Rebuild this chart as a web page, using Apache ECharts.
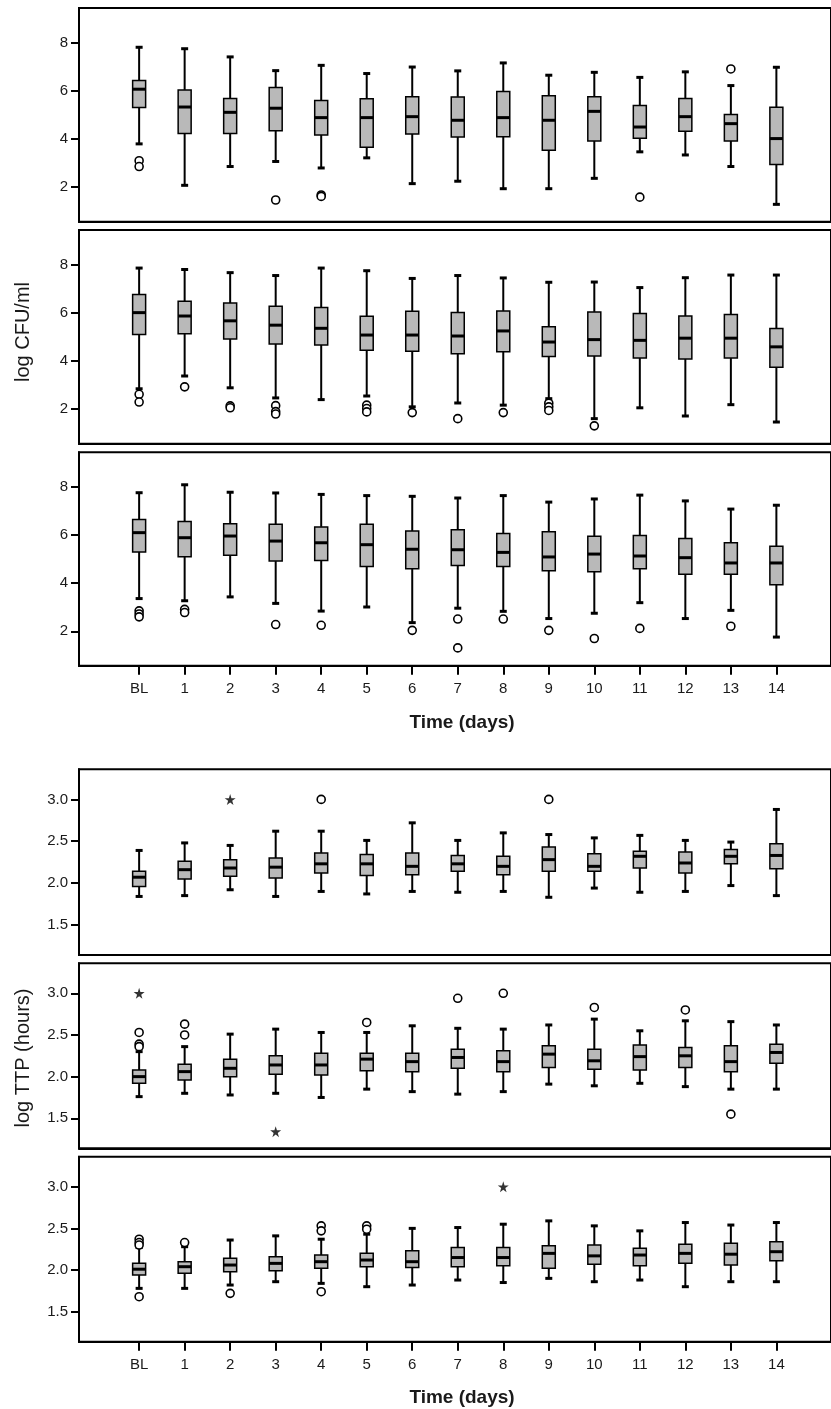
<!DOCTYPE html>
<html>
<head>
<meta charset="utf-8">
<script src="https://cdn.jsdelivr.net/npm/echarts@6/dist/echarts.min.js"></script>
<style>
  html, body { margin: 0; padding: 0; background: #fff; }
  #chart { width: 831px; height: 1409px; }
</style>
</head>
<body>
<div id="chart"></div>
<script>
const days = ['BL', '1', '2', '3', '4', '5', '6', '7', '8', '9', '10', '11', '12', '13', '14'];

// each entry: [low whisker, Q1, median, Q3, high whisker]
const cfuA = [
  [3.80, 5.31, 6.07, 6.43, 7.81], [2.08, 4.23, 5.33, 6.04, 7.75], [2.86, 4.23, 5.11, 5.68, 7.41],
  [3.07, 4.35, 5.28, 6.14, 6.84], [2.80, 4.17, 4.89, 5.60, 7.06], [3.22, 3.66, 4.89, 5.67, 6.72],
  [2.15, 4.21, 4.93, 5.76, 6.99], [2.25, 4.09, 4.78, 5.75, 6.83], [1.94, 4.10, 4.89, 5.97, 7.16],
  [1.94, 3.54, 4.78, 5.80, 6.65], [2.37, 3.92, 5.15, 5.76, 6.77], [3.47, 4.03, 4.50, 5.39, 6.56],
  [3.34, 4.32, 4.93, 5.68, 6.79], [2.86, 3.92, 4.64, 5.02, 6.22], [1.29, 2.94, 4.02, 5.32, 6.98]
];
const cfuAOut = [[0, 3.10], [0, 2.86], [3, 1.47], [4, 1.68], [4, 1.62], [11, 1.59], [13, 6.91]];

const cfuB = [
  [2.85, 5.10, 6.01, 6.76, 7.86], [3.38, 5.13, 5.87, 6.48, 7.80], [2.89, 4.92, 5.67, 6.41, 7.67],
  [2.47, 4.71, 5.49, 6.27, 7.55], [2.40, 4.67, 5.36, 6.22, 7.86], [2.55, 4.45, 5.08, 5.86, 7.75],
  [2.10, 4.41, 5.08, 6.07, 7.43], [2.26, 4.30, 5.04, 6.02, 7.55], [2.17, 4.39, 5.25, 6.08, 7.45],
  [2.44, 4.19, 4.79, 5.42, 7.27], [1.61, 4.21, 4.89, 6.04, 7.28], [2.06, 4.13, 4.86, 5.97, 7.05],
  [1.72, 4.09, 4.95, 5.87, 7.46], [2.19, 4.13, 4.95, 5.93, 7.57], [1.47, 3.74, 4.59, 5.35, 7.57]
];
const cfuBOut = [
  [0, 2.62], [0, 2.30], [1, 2.93], [2, 2.14], [2, 2.06], [3, 2.15], [3, 1.90], [3, 1.80],
  [5, 2.17], [5, 2.03], [5, 1.89], [6, 1.86], [7, 1.61], [8, 1.86], [9, 2.25], [9, 2.10],
  [9, 1.95], [10, 1.31]
];

const cfuC = [
  [3.36, 5.30, 6.10, 6.65, 7.76], [3.27, 5.10, 5.89, 6.56, 8.09], [3.43, 5.16, 5.96, 6.47, 7.78],
  [3.16, 4.92, 5.75, 6.45, 7.75], [2.84, 4.94, 5.68, 6.34, 7.69], [3.01, 4.69, 5.60, 6.45, 7.64],
  [2.36, 4.60, 5.41, 6.17, 7.61], [2.96, 4.73, 5.39, 6.22, 7.54], [2.83, 4.69, 5.28, 6.07, 7.64],
  [2.53, 4.52, 5.09, 6.14, 7.37], [2.75, 4.47, 5.21, 5.95, 7.50], [3.19, 4.60, 5.13, 5.98, 7.66],
  [2.53, 4.37, 5.06, 5.86, 7.42], [2.87, 4.37, 4.84, 5.68, 7.08], [1.76, 3.93, 4.84, 5.53, 7.24]
];
const cfuCOut = [
  [0, 2.85], [0, 2.72], [0, 2.60], [1, 2.91], [1, 2.78], [3, 2.28], [4, 2.25], [6, 2.04],
  [7, 2.51], [7, 1.31], [8, 2.51], [9, 2.04], [10, 1.70], [11, 2.12], [13, 2.21]
];

// log TTP (hours)
const ttpA = [
  [1.84, 1.96, 2.07, 2.14, 2.39], [1.85, 2.05, 2.16, 2.26, 2.48], [1.92, 2.08, 2.18, 2.28, 2.45],
  [1.84, 2.06, 2.19, 2.30, 2.62], [1.90, 2.12, 2.23, 2.36, 2.62], [1.87, 2.09, 2.23, 2.34, 2.51],
  [1.90, 2.10, 2.20, 2.36, 2.72], [1.89, 2.14, 2.23, 2.33, 2.51], [1.90, 2.10, 2.20, 2.32, 2.60],
  [1.83, 2.14, 2.28, 2.43, 2.58], [1.94, 2.14, 2.20, 2.35, 2.54], [1.89, 2.18, 2.32, 2.38, 2.57],
  [1.90, 2.12, 2.24, 2.37, 2.51], [1.97, 2.23, 2.32, 2.40, 2.49], [1.85, 2.17, 2.33, 2.47, 2.88]
];
const ttpAOut = [[4, 3.00], [9, 3.00]];
const ttpAStar = [[2, 3.00]];

const ttpB = [
  [1.76, 1.92, 2.00, 2.08, 2.30], [1.80, 1.96, 2.06, 2.15, 2.36], [1.78, 2.00, 2.10, 2.21, 2.51],
  [1.80, 2.03, 2.14, 2.25, 2.57], [1.75, 2.02, 2.14, 2.28, 2.53], [1.85, 2.07, 2.21, 2.28, 2.53],
  [1.82, 2.06, 2.18, 2.28, 2.61], [1.79, 2.10, 2.23, 2.33, 2.58], [1.82, 2.06, 2.18, 2.31, 2.57],
  [1.91, 2.11, 2.27, 2.37, 2.62], [1.89, 2.09, 2.19, 2.33, 2.69], [1.92, 2.08, 2.24, 2.38, 2.55],
  [1.88, 2.11, 2.25, 2.35, 2.67], [1.85, 2.06, 2.18, 2.37, 2.66], [1.85, 2.16, 2.29, 2.39, 2.62]
];
const ttpBOut = [
  [0, 2.53], [0, 2.39], [0, 2.36], [1, 2.63], [1, 2.50], [5, 2.65], [7, 2.94], [8, 3.00],
  [10, 2.83], [12, 2.80], [13, 1.55]
];
const ttpBStar = [[0, 3.00], [3, 1.34]];

const ttpC = [
  [1.78, 1.94, 2.01, 2.08, 2.27], [1.78, 1.96, 2.04, 2.10, 2.28], [1.82, 1.98, 2.06, 2.14, 2.36],
  [1.86, 1.99, 2.08, 2.16, 2.41], [1.84, 2.02, 2.10, 2.18, 2.37], [1.80, 2.04, 2.12, 2.20, 2.43],
  [1.82, 2.03, 2.10, 2.23, 2.50], [1.88, 2.04, 2.15, 2.27, 2.51], [1.85, 2.05, 2.15, 2.27, 2.55],
  [1.90, 2.02, 2.20, 2.29, 2.59], [1.86, 2.07, 2.17, 2.30, 2.53], [1.88, 2.05, 2.18, 2.26, 2.47],
  [1.80, 2.08, 2.20, 2.31, 2.57], [1.86, 2.06, 2.19, 2.32, 2.54], [1.86, 2.11, 2.22, 2.34, 2.57]
];
const ttpCOut = [
  [0, 2.37], [0, 2.33], [0, 2.30], [0, 1.68], [1, 2.33], [2, 1.72], [4, 2.53], [4, 2.47],
  [4, 1.74], [5, 2.53], [5, 2.49]
];
const ttpCStar = [[8, 3.00]];

const cfuTicks = [2, 4, 6, 8];
const ttpTicks = [1.5, 2.0, 2.5, 3.0];
const dayTicks = days.map((d, i) => i);

const FONT = 'Liberation Sans, Arial, sans-serif';
const STAR = 'path://M50,0 L61,35 L98,35 L68,57 L79,91 L50,70 L21,91 L32,57 L2,35 L39,35 Z';

const panels = [
  {top: 8, height: 213.7, min: 0.57, max: 9.44, ticks: cfuTicks, box: cfuA, out: cfuAOut, star: [], xLabels: false},
  {top: 230, height: 213.7, min: 0.57, max: 9.44, ticks: cfuTicks, box: cfuB, out: cfuBOut, star: [], xLabels: false},
  {top: 452.3, height: 213.4, min: 0.57, max: 9.44, ticks: cfuTicks, box: cfuC, out: cfuCOut, star: [], xLabels: true},
  {top: 769.3, height: 185.7, min: 1.14, max: 3.36, ticks: ttpTicks, box: ttpA, out: ttpAOut, star: ttpAStar, xLabels: false},
  {top: 963.3, height: 185, min: 1.14, max: 3.36, ticks: ttpTicks, box: ttpB, out: ttpBOut, star: ttpBStar, xLabels: false},
  {top: 1156.7, height: 185, min: 1.14, max: 3.36, ticks: ttpTicks, box: ttpC, out: ttpCOut, star: ttpCStar, xLabels: true}
];

function renderBox(params, api) {
  const x = api.value(0);
  const lo = api.coord([x, api.value(1)]);
  const q1 = api.coord([x, api.value(2)]);
  const md = api.coord([x, api.value(3)]);
  const q3 = api.coord([x, api.value(4)]);
  const hi = api.coord([x, api.value(5)]);
  const cx = lo[0];
  const hw = 6.5;   // half box width
  const cw = 3.5;   // half cap width
  const thin = {stroke: '#000', lineWidth: 2};
  const thick = {stroke: '#000', lineWidth: 3};
  return {
    type: 'group',
    children: [
      {type: 'line', shape: {x1: cx, y1: hi[1], x2: cx, y2: q3[1]}, style: thin},
      {type: 'line', shape: {x1: cx, y1: q1[1], x2: cx, y2: lo[1]}, style: thin},
      {type: 'line', shape: {x1: cx - cw, y1: hi[1], x2: cx + cw, y2: hi[1]}, style: thick},
      {type: 'line', shape: {x1: cx - cw, y1: lo[1], x2: cx + cw, y2: lo[1]}, style: thick},
      {type: 'rect', shape: {x: cx - hw, y: q3[1], width: hw * 2, height: q1[1] - q3[1]},
        style: {fill: '#b9b9b9', stroke: '#000', lineWidth: 1.5}},
      {type: 'line', shape: {x1: cx - hw, y1: md[1], x2: cx + hw, y2: md[1]}, style: thick}
    ]
  };
}

const grid = [], xAxis = [], yAxis = [], series = [];
panels.forEach((p, k) => {
  grid.push({
    left: 79, width: 754, top: p.top, height: p.height,
    show: true, borderColor: '#000', borderWidth: 2, backgroundColor: 'transparent'
  });
  xAxis.push({
    gridIndex: k, type: 'value', min: -1.321, max: 15.2,
    splitLine: {show: false},
    axisLine: {show: true, onZero: false, lineStyle: {color: '#000', width: 2}},
    axisTick: {show: p.xLabels, length: 9, customValues: dayTicks, lineStyle: {color: '#000', width: 2}},
    axisLabel: {
      show: p.xLabels, customValues: dayTicks, margin: 16,
      color: '#1a1a1a', fontSize: 15, fontFamily: FONT,
      formatter: v => days[Math.round(v)]
    }
  });
  yAxis.push({
    gridIndex: k, type: 'value', min: p.min, max: p.max,
    splitLine: {show: false},
    axisLine: {show: true, onZero: false, lineStyle: {color: '#000', width: 2}},
    axisTick: {show: true, length: 8, customValues: p.ticks, lineStyle: {color: '#000', width: 2}},
    axisLabel: {
      customValues: p.ticks, margin: 11,
      color: '#1a1a1a', fontSize: 15, fontFamily: FONT,
      formatter: v => (p.ticks === cfuTicks ? String(Math.round(v)) : v.toFixed(1))
    }
  });
  series.push({
    type: 'custom', xAxisIndex: k, yAxisIndex: k,
    renderItem: renderBox,
    encode: {x: 0, y: [1, 2, 3, 4, 5]},
    data: p.box.map((b, i) => [i].concat(b)),
    z: 2
  });
  series.push({
    type: 'scatter', xAxisIndex: k, yAxisIndex: k,
    symbol: 'circle', symbolSize: 8,
    itemStyle: {color: '#fff', borderColor: '#000', borderWidth: 1.6, opacity: 1},
    data: p.out, z: 3
  });
  if (p.star.length) {
    series.push({
      type: 'scatter', xAxisIndex: k, yAxisIndex: k,
      symbol: STAR, symbolSize: 11,
      itemStyle: {color: '#000'},
      data: p.star, z: 3
    });
  }
});

const titleStyle = {fill: '#1a1a1a', fontSize: 20, fontFamily: FONT, textAlign: 'center', textVerticalAlign: 'middle'};

const chart = echarts.init(document.getElementById('chart'), null, {renderer: 'canvas'});
chart.setOption({
  animation: false,
  backgroundColor: '#fff',
  grid: grid,
  xAxis: xAxis,
  yAxis: yAxis,
  series: series,
  graphic: [
    {type: 'text', x: 23, y: 332, rotation: Math.PI / 2, style: Object.assign({text: 'log CFU/ml'}, titleStyle)},
    {type: 'text', x: 23, y: 1058, rotation: Math.PI / 2, style: Object.assign({text: 'log TTP (hours)'}, titleStyle)},
    {type: 'text', x: 462, y: 723, style: Object.assign({text: 'Time (days)'}, titleStyle, {fontSize: 19, fontWeight: 'bold'})},
    {type: 'text', x: 462, y: 1398, style: Object.assign({text: 'Time (days)'}, titleStyle, {fontSize: 19, fontWeight: 'bold'})}
  ]
});
</script>
</body>
</html>
